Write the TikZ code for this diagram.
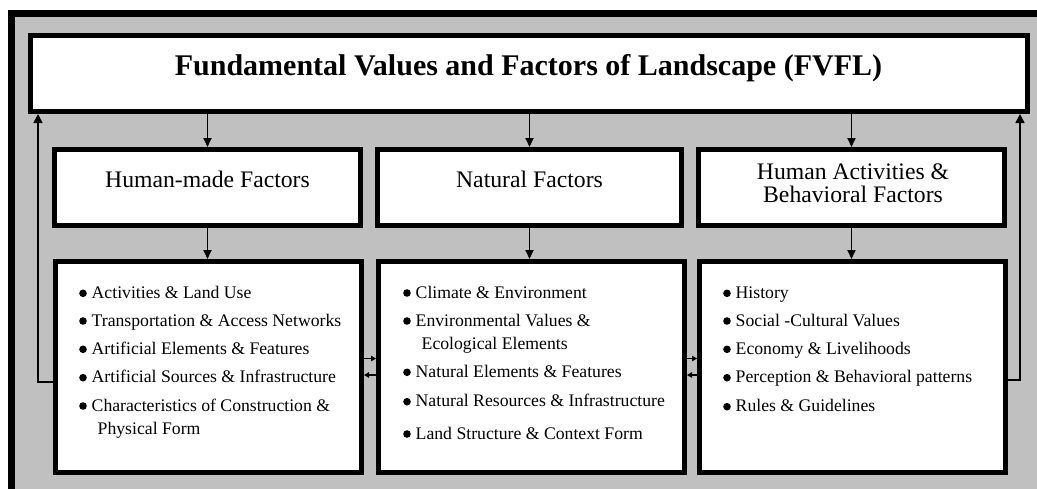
\documentclass[tikz,border=0pt]{standalone}
\usepackage{fontspec}
\setmainfont{Liberation Serif}
\usetikzlibrary{arrows.meta}
\definecolor{bggray}{RGB}{192,192,192}
% #1 node name, #2 bullet x, #3 baseline y, #4 text
\newcommand\itembul[4]{%
  \fill (#2,#3-5) circle (3.8pt);
  \node[itm] (#1) at (#2+8.5,#3) {#4};}
% continuation line: #1 name, #2 bullet x, #3 baseline y, #4 text
\newcommand\itemcont[4]{%
  \node[itm] (#1) at (#2+14.5,#3) {#4};}
\begin{document}
\begin{tikzpicture}[x=1pt,y=-1pt,
  box/.style={draw=black, line width=5pt, fill=white, inner sep=0pt},
  arr/.style={line width=1.8pt, -{Triangle[length=9pt,width=8pt]}},
  fb/.style={line width=1.6pt, -{Triangle[length=9pt,width=9pt]}},
  sarr/.style={line width=1.2pt, -{Triangle[length=5pt,width=5.5pt]}},
  ttl/.style={font=\fontsize{30}{36}\selectfont\bfseries, inner sep=0pt, anchor=base},
  mid/.style={font=\fontsize{23.7}{21}\selectfont, inner sep=0pt, anchor=base},
  itm/.style={font=\fontsize{17.7}{21}\selectfont, inner sep=0pt, anchor=base west}]
\useasboundingbox (0,0) rectangle (1037,488);
\clip (0,0) rectangle (1037,488);
\fill[white] (0,0) rectangle (1037,488);
\fill[black] (8,10) rectangle (1045,495);
\fill[bggray] (15,17) rectangle (1045,495);

% title
\node[box, minimum width=997pt, minimum height=76pt] (fvfl) at (529,73.5) {};
\node[ttl] (fvflT) at (528.5,75.7) {Fundamental Values and Factors of Landscape (FVFL)};

% second level
\node[box, minimum width=306pt, minimum height=76pt] (hm) at (207.5,187.5) {};
\node[box, minimum width=304pt, minimum height=76pt] (nf) at (529.5,187.5) {};
\node[box, minimum width=306pt, minimum height=76pt] (hb) at (851.5,187.5) {};
\node[mid] (hmT) at (207.5,187.3) {Human-made Factors};
\node[mid] (nfT) at (529.5,187.3) {Natural Factors};
\node[mid] (hbT) at (853,202.7) {\begin{tabular}[b]{@{}c@{}}Human Activities \&\\ Behavioral Factors\end{tabular}};

% third level
\node[box, minimum width=306pt, minimum height=211pt] (hml) at (208.5,367) {};
\node[box, minimum width=306pt, minimum height=211pt] (nfl) at (531.5,367) {};
\node[box, minimum width=306pt, minimum height=211pt] (hbl) at (852.5,367) {};

\itembul{hm1}{83}{298.3}{Activities \& Land Use}
\itembul{hm2}{83}{326}{Transportation \& Access Networks}
\itembul{hm3}{83}{354.3}{Artificial Elements \& Features}
\itembul{hm4}{83}{382.7}{Artificial Sources \& Infrastructure}
\itembul{hm5}{83}{411}{Characteristics of Construction \&}
\itemcont{hm6}{83}{434.3}{Physical Form}

\itembul{nf1}{407}{298}{Climate \& Environment}
\itembul{nf2}{407}{326}{Environmental Values \&}
\itemcont{nf3}{407}{349}{Ecological Elements}
\itembul{nf4}{407}{377.3}{Natural Elements \& Features}
\itembul{nf5}{407}{406.7}{Natural Resources \& Infrastructure}
\itembul{nf6}{407}{439}{Land Structure \& Context Form}

\itembul{hb1}{727}{298.3}{History}
\itembul{hb2}{727}{326}{Social -Cultural Values}
\itembul{hb3}{727}{354.3}{Economy \& Livelihoods}
\itembul{hb4}{727}{382.7}{Perception \& Behavioral patterns}
\itembul{hb5}{727}{411.7}{Rules \& Guidelines}

% arrows title -> second level
\draw[arr] (fvfl.south -| hm.north) -- (hm.north);
\draw[arr] (fvfl.south -| nf.north) -- (nf.north);
\draw[arr] (fvfl.south -| hb.north) -- (hb.north);
% second -> third
\draw[arr] (hm.south) -- (hm.south |- hml.north);
\draw[arr] (nf.south) -- (nf.south |- nfl.north);
\draw[arr] (hb.south) -- (hb.south |- hbl.north);

% feedback arrows
\coordinate (fbL) at (38,381.7);
\coordinate (fbR) at (1020,380);
\draw[fb] (hml.west |- fbL) -- (fbL) -- (fbL |- fvfl.south);
\draw[fb] (hbl.east |- fbR) -- (fbR) -- (fbR |- fvfl.south);

% small horizontal arrows
\coordinate (h1) at (370,358.5);
\coordinate (h2) at (370,375);
\coordinate (h3) at (692,358.5);
\coordinate (h4) at (692,375);
\draw[sarr] (hml.east |- h1) -- (nfl.west |- h1);
\draw[sarr] (nfl.west |- h2) -- (hml.east |- h2);
\draw[sarr] (nfl.east |- h3) -- (hbl.west |- h3);
\draw[sarr] (hbl.west |- h4) -- (nfl.east |- h4);
\end{tikzpicture}
\end{document}
